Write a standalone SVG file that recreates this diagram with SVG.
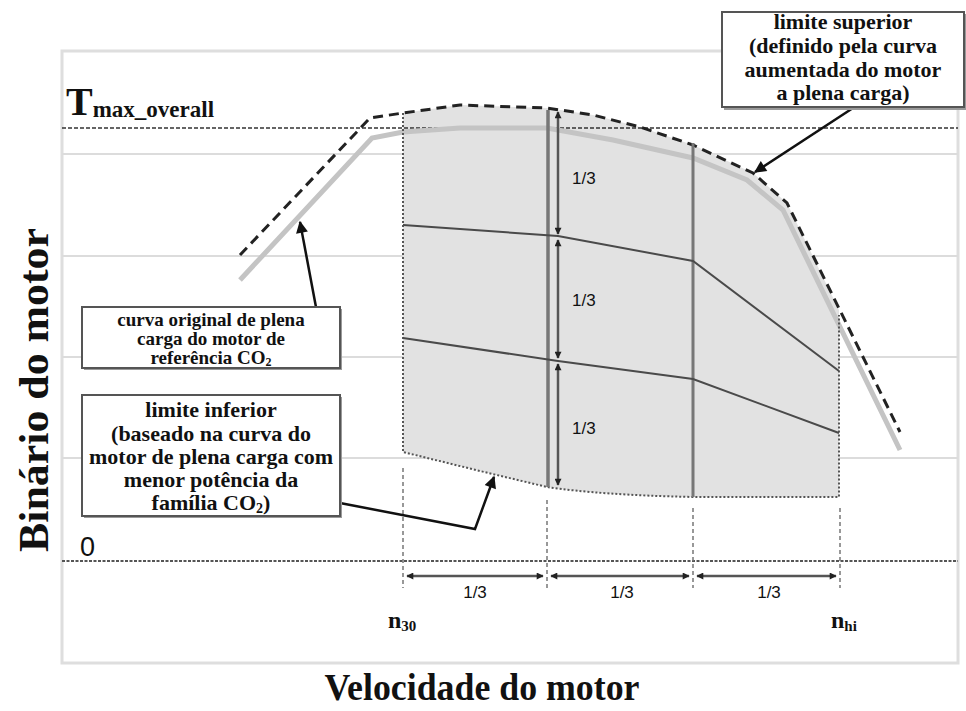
<svg xmlns="http://www.w3.org/2000/svg" width="966" height="711" viewBox="0 0 966 711">
<style>
.serif{font-family:"Liberation Serif","DejaVu Serif",serif;font-weight:bold;fill:#111}
.sans{font-family:"Liberation Sans","DejaVu Sans",sans-serif;fill:#111}
.grid{stroke:#dcdcdc;stroke-width:2}
.box{fill:#fff;stroke:#555;stroke-width:2}
.shadow{fill:#9a9a9a}
.dot{fill:none;stroke:#555;stroke-width:2;stroke-dasharray:2 2}
.tick{stroke:#777;stroke-width:1.5;stroke-dasharray:4 3}
.split{stroke:#4a4a4a;stroke-width:2;fill:none}
.dim{stroke:#555;stroke-width:2.5}
.ptr{stroke:#111;stroke-width:2.5;fill:none}
</style>
<defs>
<marker id="dh" viewBox="0 0 10 10" refX="9" refY="5" markerWidth="8" markerHeight="7" markerUnits="userSpaceOnUse" orient="auto-start-reverse"><path d="M0,0 L10,5 L0,10 z" fill="#222"/></marker>
<marker id="ph" viewBox="0 0 10 10" refX="9" refY="5" markerWidth="14" markerHeight="12" markerUnits="userSpaceOnUse" orient="auto"><path d="M0,0 L10,5 L0,10 z" fill="#111"/></marker>
</defs>
<rect width="966" height="711" fill="#fff"/>
<g id="frame">
<rect x="62" y="51" width="896" height="612" fill="#fff" stroke="#dedede" stroke-width="3"/>
<line class="grid" x1="62" y1="154" x2="958" y2="154"/>
<line class="grid" x1="62" y1="256" x2="958" y2="256"/>
<line class="grid" x1="62" y1="357" x2="958" y2="357"/>
<line class="grid" x1="62" y1="458" x2="958" y2="458"/>
</g>
<g id="region">
<path d="M403,113 L460,105 L547,108 L593,115 L640,127 L693,145 L753,173 L787,203 L839,310 L839,497 L693,497 Q600,495 547,487 L480,471 L403,452 Z" fill="#e2e2e2"/>
</g>
<g id="reference-lines">
<line x1="62" y1="128" x2="958" y2="128" stroke="#333" stroke-width="1.3" stroke-dasharray="4 2"/>
<line x1="62" y1="561" x2="958" y2="561" stroke="#555" stroke-width="2" stroke-dasharray="3 1.5"/>
</g>
<g id="curves">
<polyline points="240,280 372,138 403,132 460,128 547,128 613,140 693,158 747,180 783,210 900,450" fill="none" stroke="#c4c4c4" stroke-width="5"/>
<polyline points="240,255 370,118 403,113 460,105 547,108 593,115 640,127 693,145 753,173 787,203 900,432" fill="none" stroke="#222" stroke-width="3" stroke-dasharray="10 6"/>
<path class="dot" d="M403,113 L403,452 L480,471 L547,487 Q600,495 693,497 L839,497 L839,315"/>
<line x1="548" y1="110" x2="548" y2="487" stroke="#777" stroke-width="3.5"/>
<line x1="693" y1="143" x2="693" y2="497" stroke="#777" stroke-width="3"/>
<polyline class="split" points="403,225 558,236 693,261 839,371"/>
<polyline class="split" points="403,338 558,361 693,379 839,433"/>
</g>
<g id="ticks">
<line class="tick" x1="403" y1="468" x2="403" y2="588"/>
<line class="tick" x1="547" y1="500" x2="547" y2="588"/>
<line class="tick" x1="693" y1="508" x2="693" y2="588"/>
<line class="tick" x1="840" y1="508" x2="840" y2="588"/>
</g>
<g id="connectors">
<line class="dim" x1="558" y1="112" x2="558" y2="234" marker-start="url(#dh)" marker-end="url(#dh)"/>
<line class="dim" x1="558" y1="240" x2="558" y2="358" marker-start="url(#dh)" marker-end="url(#dh)"/>
<line class="dim" x1="558" y1="364" x2="558" y2="485" marker-start="url(#dh)" marker-end="url(#dh)"/>
<line class="dim" x1="407" y1="576" x2="543" y2="576" marker-start="url(#dh)" marker-end="url(#dh)"/>
<line class="dim" x1="551" y1="576" x2="689" y2="576" marker-start="url(#dh)" marker-end="url(#dh)"/>
<line class="dim" x1="697" y1="576" x2="836" y2="576" marker-start="url(#dh)" marker-end="url(#dh)"/>
<line class="ptr" x1="853" y1="108" x2="755" y2="172" marker-end="url(#ph)"/>
<line class="ptr" x1="316" y1="307" x2="300" y2="222" marker-end="url(#ph)"/>
<polyline class="ptr" points="340,503 475,529 494,477" marker-end="url(#ph)"/>
</g>
<g id="fractions" class="sans" font-size="17">
<text x="572" y="184">1/3</text>
<text x="572" y="306">1/3</text>
<text x="572" y="434">1/3</text>
<text x="475" y="598" text-anchor="middle">1/3</text>
<text x="622" y="598" text-anchor="middle">1/3</text>
<text x="769" y="598" text-anchor="middle">1/3</text>
</g>
<g id="axis-labels">
<text class="serif" x="66" y="115" font-size="40">T<tspan font-size="23" dy="2">max_overall</tspan></text>
<text class="sans" x="80" y="556" font-size="27">0</text>
<text class="serif" x="388" y="628" font-size="24">n<tspan font-size="15" dy="3">30</tspan></text>
<text class="serif" x="831" y="628" font-size="24">n<tspan font-size="15" dy="3">hi</tspan></text>
<text class="serif" x="482" y="700" font-size="38" text-anchor="middle" textLength="315" lengthAdjust="spacingAndGlyphs">Velocidade do motor</text>
<text class="serif" transform="translate(48,390) rotate(-90)" x="0" y="0" font-size="42" text-anchor="middle" textLength="324" lengthAdjust="spacingAndGlyphs">Binário do motor</text>
</g>
<g id="box-upper">
<rect class="shadow" x="724" y="14" width="243" height="96"/>
<rect class="box" x="722" y="12" width="242" height="95"/>
<text class="serif" font-size="22" text-anchor="middle"><tspan x="843" y="29">limite superior</tspan><tspan x="843" y="53">(definido pela curva</tspan><tspan x="843" y="77">aumentada do motor</tspan><tspan x="843" y="100">a plena carga)</tspan></text>
</g>
<g id="box-original">
<rect class="shadow" x="84" y="309" width="258" height="61"/>
<rect class="box" x="82" y="307" width="258" height="61"/>
<text class="serif" font-size="19" text-anchor="middle"><tspan x="211" y="326">curva original de plena</tspan><tspan x="211" y="345">carga do motor de</tspan><tspan x="211" y="364">referência CO<tspan font-size="12" dy="2">2</tspan></tspan></text>
</g>
<g id="box-lower">
<rect class="shadow" x="84" y="397" width="258" height="121"/>
<rect class="box" x="82" y="395" width="258" height="121"/>
<text class="serif" font-size="22" text-anchor="middle"><tspan x="211" y="417">limite inferior</tspan><tspan x="211" y="441">(baseado na curva do</tspan><tspan x="211" y="464">motor de plena carga com</tspan><tspan x="211" y="487">menor potência da</tspan><tspan x="211" y="510">família CO<tspan font-size="14" dy="3">2</tspan><tspan dy="-3">)</tspan></tspan></text>
</g>
</svg>
